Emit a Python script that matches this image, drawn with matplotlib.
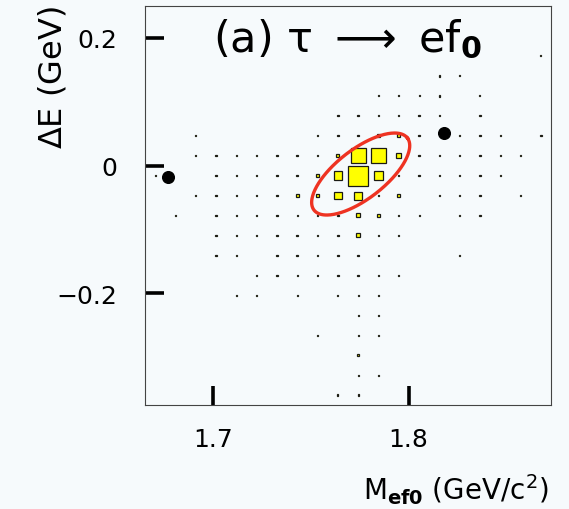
import numpy as np
import matplotlib
matplotlib.use("Agg")
import matplotlib.pyplot as plt
from matplotlib.patches import Rectangle

# histogram range (20 x 20 bins)
m_lo, m_hi = 1.665, 1.873
de_lo, de_hi = -0.375, 0.25
n_bins = 20

# MC signal box contents, rows from the top (highest dE) to the bottom,
# columns from low to high M
counts = np.zeros((n_bins, n_bins))
rows = {
    2:  {19: 0.2},
    3:  {14: 0.5, 15: 0.2},
    4:  {11: 0.25, 12: 0.25, 13: 0.25, 14: 0.6, 16: 0.25},
    5:  {9: 0.6, 10: 0.45, 11: 0.6, 12: 0.4, 13: 0.6, 14: 0.6, 16: 0.6},
    6:  {2: 0.2, 8: 0.6, 9: 0.6, 10: 0.6, 11: 3, 12: 2.5, 13: 0.45, 15: 0.6,
         16: 0.6, 17: 0.2, 19: 0.6},
    7:  {2: 0.2, 3: 0.5, 4: 0.2, 5: 0.3, 6: 0.5, 7: 0.6, 8: 0.6, 9: 2.5,
         10: 55, 11: 58, 12: 5, 13: 0.6, 14: 0.6, 15: 0.2, 16: 0.6, 17: 0.2, 18: 0.4},
    8:  {0: 0.2, 3: 0.35, 4: 0.6, 5: 0.4, 6: 0.6, 7: 0.6, 8: 2, 9: 18, 10: 100,
         11: 19, 12: 0.5, 13: 0.6, 14: 0.6, 15: 0.2, 16: 0.6, 17: 0.2},
    9:  {2: 0.2, 3: 0.45, 4: 0.2, 5: 0.3, 6: 0.5, 7: 2.5, 8: 2.5, 9: 14, 10: 16,
         11: 0.6, 12: 2.5, 14: 0.5, 15: 0.2, 16: 0.5, 18: 0.3},
    10: {1: 0.6, 3: 0.6, 4: 0.5, 5: 0.4, 6: 0.6, 7: 0.45, 8: 0.6, 9: 0.6, 10: 4,
         11: 3, 12: 0.4, 13: 0.2, 15: 0.2, 16: 0.6},
    11: {3: 0.5, 4: 0.2, 5: 0.4, 6: 0.8, 7: 0.6, 8: 0.6, 9: 0.6, 10: 4, 11: 0.5,
         12: 0.4},
    12: {3: 0.6, 4: 0.2, 6: 0.6, 7: 0.6, 8: 0.6, 9: 0.6, 10: 0.6, 11: 0.6, 15: 0.2},
    13: {5: 0.35, 6: 0.35, 7: 0.35, 8: 0.45, 9: 0.45, 10: 0.6, 11: 0.45, 12: 0.35},
    14: {4: 0.2, 5: 0.2, 7: 0.2, 9: 0.2, 10: 0.35, 11: 0.2},
    15: {10: 0.4, 11: 0.4},
    16: {8: 0.2, 10: 0.2, 11: 0.2},
    17: {10: 0.45},
    18: {10: 0.2, 11: 0.2},
    19: {9: 0.4, 10: 0.35},
}
for i, cols in rows.items():
    for j, v in cols.items():
        counts[i, j] = v

# data events
data_m = [1.6766, 1.8182]
data_de = [-0.0183, 0.0506]

# signal region ellipse (semi-axes in screen pixels, angle in degrees)
ell_m, ell_de = 1.7755, -0.0132
ell_a_px, ell_b_px, ell_ang = 59.0, 24.6, 37.7

bg = "#f6fafc"
fig = plt.figure(figsize=(5.69, 5.10), dpi=100, facecolor=bg)
ax_l, ax_b, ax_w, ax_h = 145/569, 104/510, 406/569, 399/510
ax = fig.add_axes([ax_l, ax_b, ax_w, ax_h], facecolor=bg)
ax.set_xlim(m_lo, m_hi)
ax.set_ylim(de_lo, de_hi)

bw = (m_hi - m_lo) / n_bins
bh = (de_hi - de_lo) / n_bins
vmax = counts.max()
for i in range(n_bins):
    for j in range(n_bins):
        v = counts[i, j]
        if v <= 0:
            continue
        f = np.sqrt(v / vmax)
        xc = m_lo + (j + 0.5) * bw
        yc = de_hi - (i + 0.5) * bh
        ax.add_patch(Rectangle((xc - f*bw/2, yc - f*bh/2), f*bw, f*bh,
                               facecolor="#ffff00", edgecolor="#1a1a14", lw=0.9))

# ellipse drawn in pixel-space then mapped to data
px_x = ax_w * 569 / (m_hi - m_lo)
px_y = ax_h * 510 / (de_hi - de_lo)
t = np.linspace(0, 2*np.pi, 300)
th = np.deg2rad(ell_ang)
ux = ell_a_px*np.cos(t)*np.cos(th) - ell_b_px*np.sin(t)*np.sin(th)
uy = ell_a_px*np.cos(t)*np.sin(th) + ell_b_px*np.sin(t)*np.cos(th)
ax.plot(ell_m + ux/px_x, ell_de + uy/px_y, color="#ee3322", lw=2.4)

ax.plot(data_m, data_de, "o", color="black", ms=8.4)

ax.set_xticks([1.7, 1.8])
ax.set_xticklabels(["1.7", "1.8"])
ax.set_yticks([-0.2, 0, 0.2])
ax.set_yticklabels(["\u22120.2", "0", "0.2"])
ax.tick_params(direction="in", length=14, width=2.6, color="black",
               labelsize=18, top=False, right=False)
ax.tick_params(axis="x", pad=16)
ax.tick_params(axis="y", pad=20)
for s in ax.spines.values():
    s.set_color("#444444")
    s.set_linewidth(0.8)

ax.text(0.167, 0.918, r"(a) $\mathrm{\tau}$ $\longrightarrow$ ef$_{\mathbf{0}}$",
        transform=ax.transAxes, fontsize=31, va="center", ha="left")

fig.text(53/569, 1 - 6/510, r"$\Delta$E (GeV)", rotation=90, ha="center", va="top",
         fontsize=23)
fig.text(549/569, 1 - 490/510, r"M$_{\mathbf{ef0}}$ (GeV/c$^2$)", ha="right",
         va="center", fontsize=20)

fig.savefig("out.png", dpi=100, facecolor=bg)
